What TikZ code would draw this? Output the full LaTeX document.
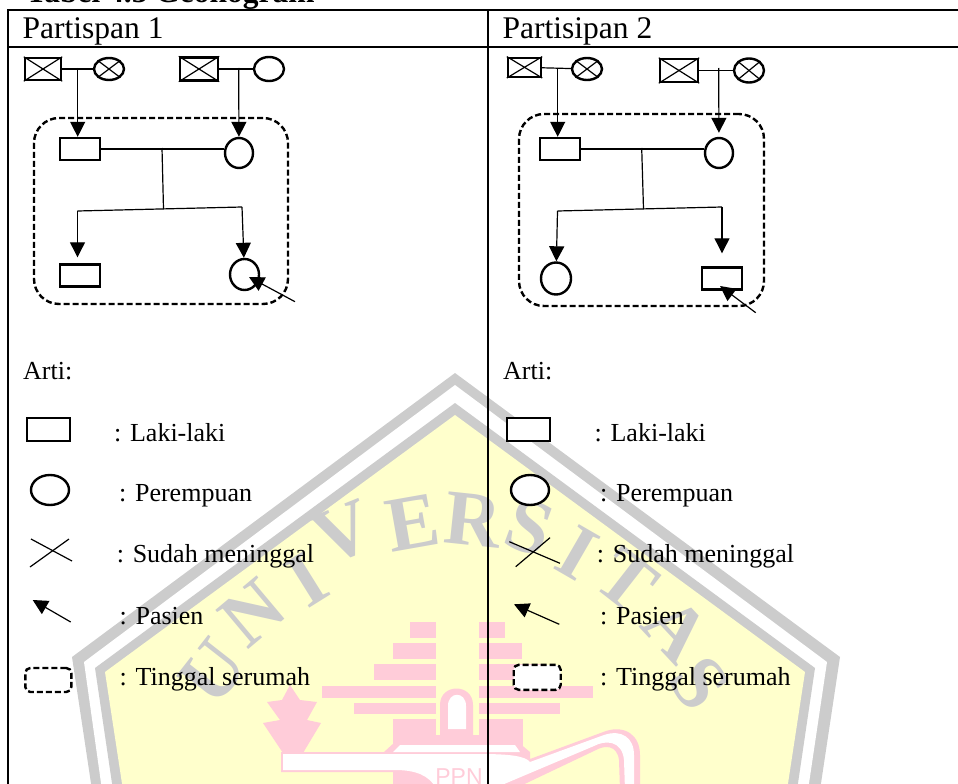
\documentclass[tikz,border=0pt]{standalone}
\usepackage{xcolor}
\usepackage{fontspec}
\setmainfont{Liberation Serif}
\newfontfamily\ppnfont{Liberation Sans}
\usetikzlibrary{arrows.meta, shapes.geometric, positioning}
\definecolor{capabu}{HTML}{CCCCCC}
\definecolor{capkuning}{HTML}{FFFFCC}
\definecolor{cappink}{HTML}{FFCCD9}
\tikzset{
    kotak/.style 2 args={draw, fill=white, line width=2.4pt, inner sep=0pt, minimum width=#1pt, minimum height=#2pt},
    bulat/.style 2 args={draw, fill=white, ellipse, line width=2.4pt, inner sep=0pt, minimum width=#1pt, minimum height=#2pt},
    serumah/.style 2 args={draw, dashed, dash pattern=on 6pt off 3pt, line width=2.4pt, inner sep=0pt, minimum width=#1pt, minimum height=#2pt},
    garis/.style={line width=1.2pt},
    judul/.style={inner sep=0pt, anchor=base west, font=\fontsize{31.5}{33}\selectfont},
    arti/.style={inner sep=0pt, anchor=base west, font=\fontsize{26}{28}\selectfont},
    huruf/.style={inner sep=0pt, text=capabu, font=\fontsize{78}{78}\selectfont\bfseries},
}

\begin{document}
\begin{tikzpicture}[x=1pt, y=-1pt, on grid, >={Stealth[inset=0pt, length=15pt, width=15pt]}]
        \useasboundingbox (0,0) rectangle (958,784);
        \clip (0,0) rectangle (958,784);

        \fill[capabu] (455,373) -- (840,657) -- (820,790) -- (92,790) -- (72,657) -- cycle;
        \fill[white] (455,385) -- (827,662) -- (808,790) -- (102,790) -- (84,662) -- cycle;
        \fill[capabu] (455,403) -- (815,668) -- (797,790) -- (113,790) -- (95,668) -- cycle;
        \fill[capkuning] (455,415) -- (805,672) -- (787,790) -- (123,790) -- (105,672) -- cycle;
        \foreach \x/\y/\r/\t [count=\i] in {213/672/52/U, 253/613/40/N, 307/580/32/I, 343/533/22/V, 413/523/10/E, 473/520/-6/R, 530/527/-20/S, 577/553/-30/I, 627/580/-38/T, 677/630/-47/A, 700/683/-56/S}
            \node[huruf, rotate=\r] (huruf\i) at (\x,\y) {\t};
        \foreach \xa/\ya/\xb/\yb in {410/622/436/638, 393/643/436/659, 374/664/436/680, 322/686/436/698, 354/703/436/714, 393/719/436/753, 479/622/505/638, 479/643/522/659, 479/664/541/680, 479/686/593/698, 479/703/560/714, 479/719/523/753}
            \fill[cappink] (\xa,\ya) rectangle (\xb,\yb);
        \fill[cappink] (440,735) -- (440,705) .. controls (440,683) and (473,683) .. (473,705) -- (473,735) -- cycle;
        \fill[white] (448,729) -- (448,706) .. controls (448,691) and (466,691) .. (466,706) -- (466,729) -- cycle;
        \fill[cappink] (290,685) -- (300,700) -- (317,702) -- (307,720) -- (321,723) -- (303,753) -- (283,753) -- (263,723) -- (280,720) -- (267,702) -- (282,700) -- cycle;
        \fill[cappink] (407,742) -- (412,735) -- (502,735) -- (507,742) -- cycle;
        \fill[cappink] (281,752) -- (384,752) -- (395,742) -- (518,742) -- (530,752) -- (530,759) -- (606,731) .. controls (625,725) and (640,735) .. (640,755) -- (640,790) -- (620,790) -- (619,760) .. controls (617,745) and (605,745) .. (596,750) -- (512,790) -- (393,790) -- (393,772) -- (281,772) -- cycle;
        \fill[white] (393,752) -- (400,745) -- (515,745) -- (520,752) -- cycle;
        \fill[white] (283,754) -- (480,754) .. controls (510,754) and (525,756) .. (530,762) -- (604,735) .. controls (622,729) and (634,738) .. (634,755) -- (634,790) -- (625,790) -- (624,760) .. controls (622,740) and (605,740) .. (594,746) -- (490,790) -- (437,790) .. controls (430,775) and (415,770) .. (395,770) -- (283,770) -- cycle;
        \node[inner sep=0pt, anchor=base, text=cappink, font=\fontsize{23}{23}\ppnfont] (ppn) at (459,784) {PPN};

        \node[judul, font=\fontsize{31.5}{33}\selectfont\bfseries] (tabel) at (26,3) {Tabel 4.3 Geonogram};
        \draw[line width=2pt] (8,10.5) -- (958,10.5);
        \draw[line width=2pt] (8,47.5) -- (958,47.5);
        \draw[line width=2pt] (8,9.5) -- (8,784);
        \draw[line width=2pt] (488,9.5) -- (488,784);
        \node[judul] (part1) at (22.5,39) {Partispan 1};
        \node[judul] (part2) at (502.5,39) {Partisipan 2};

        \node[kotak={36}{22}] (kakek1a) at (43,69) {};
        \node[bulat={30}{22}, right=66pt of kakek1a] (nenek1a) {};
        \node[kotak={38}{23}, right=156pt of kakek1a] (kakek1b) {};
        \node[bulat={30}{24}, right=226pt of kakek1a] (nenek1b) {};
        \node[serumah={254}{186}, rounded corners=25pt] (rumah1) at (161,211) {};
        \node[kotak={40}{22}] (ayah1) at (80,149) {};
        \node[bulat={28}{30}, below right=4pt and 159pt of ayah1] (ibu1) {};
        \node[kotak={40}{22}, below=126.5pt of ayah1] (anak1a) {};
        \node[bulat={29}{31}, below right=121.5pt and 5.5pt of ibu1] (anak1b) {};

        \draw[garis] (kakek1a.north west) -- (kakek1a.south east);
        \draw[garis] (kakek1a.south west) -- (kakek1a.north east);
        \draw[garis] (nenek1a.north west) -- (nenek1a.south east);
        \draw[garis] (nenek1a.south west) -- (nenek1a.north east);
        \draw[garis] (kakek1b.north west) -- (kakek1b.south east);
        \draw[garis] (kakek1b.south west) -- (kakek1b.north east);

        \coordinate (turun1a) at (77.7,68);
        \coordinate (turun1b) at (238.7,68);
        \coordinate (tengah1a) at (162,148);
        \coordinate (tengah1b) at (163.5,209);
        \coordinate (kiri1) at (77.5,211);
        \coordinate (kanan1) at (242,207);
        \coordinate (pasien1) at (295,301.7);
        \coordinate (ujung1) at (249,277);
        \draw[garis] (kakek1a) -- (nenek1a);
        \draw[garis] (kakek1b) -- (nenek1b);
        \draw[garis] (ayah1.east) -- (ayah1.east -| ibu1.west);
        \draw[garis] (tengah1a) -- (tengah1b);
        \draw[garis] (kiri1) -- (kanan1);
        \draw[->, garis] (turun1a) -- (turun1a |- ayah1.north);
        \draw[->, garis] (turun1b) -- (ibu1);
        \draw[->, garis, shorten >=6pt] (kiri1) -- (kiri1 |- anak1a.north);
        \draw[->, garis] (kanan1) -- (anak1b);
        \draw[->, garis] (pasien1) -- (ujung1);

        \node[kotak={33}{19}] (kakek2a) at (524.5,67.3) {};
        \node[bulat={30}{22}, below right=1.7pt and 62.5pt of kakek2a] (nenek2a) {};
        \node[kotak={38}{23}] (kakek2b) at (679,70.5) {};
        \node[bulat={30}{24}, right=70pt of kakek2b] (nenek2b) {};
        \node[serumah={245}{192}, rounded corners=25pt] (rumah2) at (641.5,210) {};
        \node[kotak={40}{22}] (ayah2) at (560,149) {};
        \node[bulat={28}{30}, below right=4pt and 159pt of ayah2] (ibu2) {};
        \node[bulat={30}{32}] (anak2a) at (556,278.5) {};
        \node[kotak={40}{22}, right=166pt of anak2a] (anak2b) {};

        \draw[garis] (kakek2a.north west) -- (kakek2a.south east);
        \draw[garis] (kakek2a.south west) -- (kakek2a.north east);
        \draw[garis] (nenek2a.north west) -- (nenek2a.south east);
        \draw[garis] (nenek2a.south west) -- (nenek2a.north east);
        \draw[garis] (kakek2b.north west) -- (kakek2b.south east);
        \draw[garis] (kakek2b.south west) -- (kakek2b.north east);
        \draw[garis] (nenek2b.north west) -- (nenek2b.south east);
        \draw[garis] (nenek2b.south west) -- (nenek2b.north east);

        \coordinate (turun2a) at (557.7,68);
        \coordinate (turun2b) at (718.7,68);
        \coordinate (tengah2a) at (641.7,148);
        \coordinate (tengah2b) at (643.5,209);
        \coordinate (kiri2) at (557.5,211);
        \coordinate (kanan2) at (722,207);
        \coordinate (pasien2) at (755.7,312.7);
        \coordinate (ujung2) at (720,286);
        \draw[garis] (kakek2a) -- (nenek2a);
        \draw[garis] (kakek2b) -- (nenek2b);
        \draw[garis] (ayah2.east) -- (ayah2.east -| ibu2.west);
        \draw[garis] (tengah2a) -- (tengah2b);
        \draw[garis] (kiri2) -- (kanan2);
        \draw[->, garis] (turun2a) -- (turun2a |- ayah2.north);
        \draw[->, garis, shorten >=4pt] (turun2b) -- (ibu2);
        \draw[->, garis] (kiri2) -- (anak2a);
        \draw[->, garis, shorten >=13pt] (kanan2) -- (anak2b);
        \draw[->, garis] (pasien2) -- (ujung2);

        \node[arti] (arti1) at (23,379) {Arti:};
        \node[kotak={43}{23}] (laki1) at (48.3,429.7) {};
        \node[bulat={38}{30}] (perempuan1) at (50,490) {};
        \node[serumah={46}{24}, rounded corners=5pt] (tinggal1) at (48.3,680) {};
        \coordinate (silang1a) at (31,539);
        \coordinate (silang1b) at (72,561);
        \coordinate (silang1c) at (69,539);
        \coordinate (silang1d) at (30,567);
        \coordinate (pasien1a) at (70.7,622);
        \coordinate (pasien1b) at (32.7,600);
        \draw[garis] (silang1a) -- (silang1b);
        \draw[garis] (silang1c) -- (silang1d);
        \draw[->, garis] (pasien1a) -- (pasien1b);
        \node[arti] (txtlaki1) at (114,441) {: Laki-laki};
        \node[arti] (txtperempuan1) at (119,501.7) {: Perempuan};
        \node[arti] (txtsudah1) at (116.7,562.7) {: Sudah meninggal};
        \node[arti] (txtpasien1) at (119.5,624.7) {: Pasien};
        \node[arti] (txttinggal1) at (119.5,685) {: Tinggal serumah};

        \node[arti] (arti2) at (503,379) {Arti:};
        \node[kotak={43}{23}] (laki2) at (528.3,429.7) {};
        \node[bulat={38}{30}] (perempuan2) at (530,490) {};
        \node[serumah={47}{25}, rounded corners=5pt, fill=white] (tinggal2) at (537.2,677.3) {};
        \coordinate (silang2a) at (509.3,541.7);
        \coordinate (silang2b) at (560,563.3);
        \coordinate (silang2c) at (550,537.7);
        \coordinate (silang2d) at (515.7,566.7);
        \coordinate (pasien2a) at (559.3,624.3);
        \coordinate (pasien2b) at (514,604.3);
        \draw[garis] (silang2a) -- (silang2b);
        \draw[garis] (silang2c) -- (silang2d);
        \draw[->, garis] (pasien2a) -- (pasien2b);
        \node[arti] (txtlaki2) at (594.5,441) {: Laki-laki};
        \node[arti] (txtperempuan2) at (600,501.7) {: Perempuan};
        \node[arti] (txtsudah2) at (596.7,562.7) {: Sudah meninggal};
        \node[arti] (txtpasien2) at (600,624.7) {: Pasien};
        \node[arti] (txttinggal2) at (600,685) {: Tinggal serumah};
    \end{tikzpicture}
\end{document}
